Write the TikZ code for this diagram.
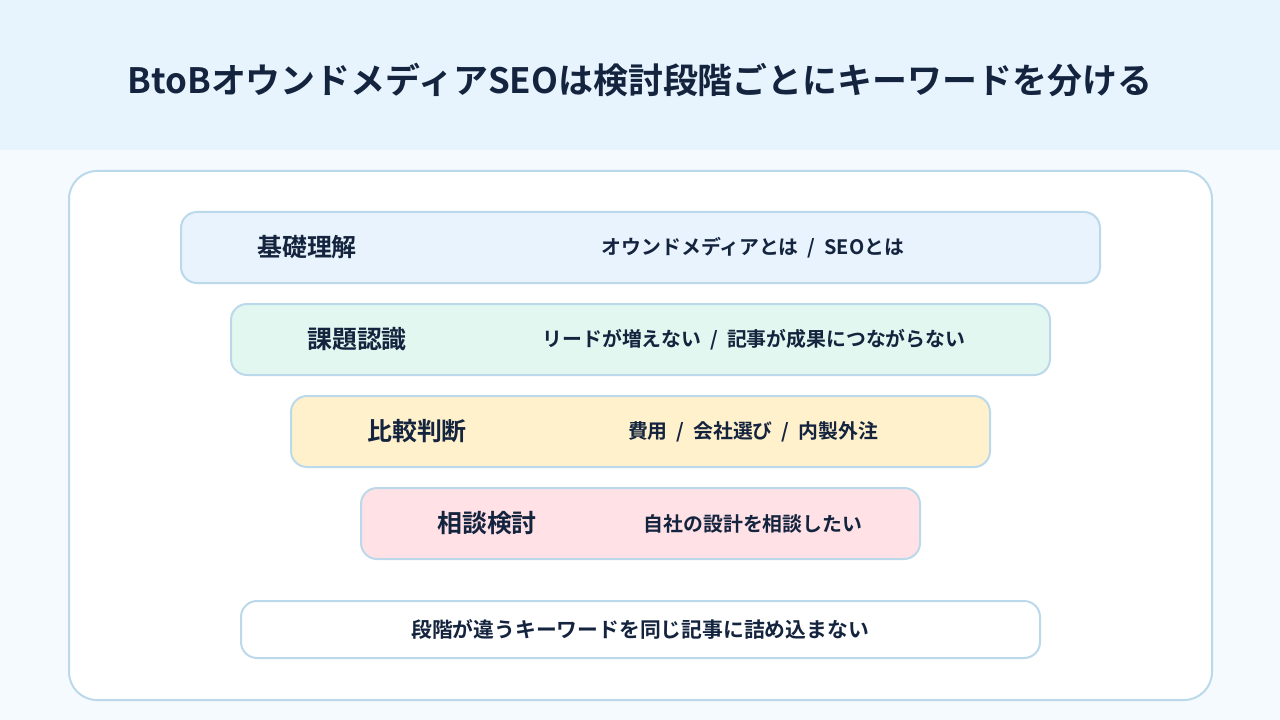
\documentclass[tikz,border=0pt]{standalone}
\usepackage{fontspec}
\setmainfont{Noto Sans CJK JP}[BoldFont={Noto Sans CJK JP Bold}]
\usetikzlibrary{positioning}
\definecolor{navy}{HTML}{14243E}
\definecolor{headblue}{HTML}{E8F4FD}
\definecolor{pageblue}{HTML}{F5FAFE}
\definecolor{edgeblue}{HTML}{BCD9EB}
\definecolor{rowblue}{HTML}{E9F3FD}
\definecolor{rowmint}{HTML}{E1F7EF}
\definecolor{rowcream}{HTML}{FFF1CC}
\definecolor{rowpink}{HTML}{FFE1E6}
\newcommand{\kwsep}{\hspace{0.45em}/\hspace{0.45em}}
\tikzset{
  stagebox/.style={draw=edgeblue, line width=1.5pt, rounded corners=12pt,
    minimum height=71*0.75pt, inner sep=0pt},
  stagelabel/.style={text=navy, font=\bfseries\fontsize{18.7}{20}\selectfont},
  keyword/.style={text=navy, font=\bfseries\fontsize{14.9}{16}\selectfont}
}
\begin{document}
\begin{tikzpicture}[x=0.75pt, y=-0.75pt]
				% page and header band
				\fill[pageblue] (0,0) rectangle (1280,720);
				\fill[headblue] (0,0) rectangle (1280,150);
				\node[text=navy, font=\bfseries\fontsize{26.2}{30}\selectfont] (title) at (640,80)
				  {BtoBオウンドメディアSEOは検討段階ごとにキーワードを分ける};
				
				% card
				\draw[edgeblue, fill=white, line width=1.5pt, rounded corners=21pt] (69,171) rectangle (1212,700);
				
				% stages
				\node[stagebox, fill=rowblue, minimum width=919*0.75pt] (basic) at (640.5,247.5) {};
				\node[stagelabel] (basiclab) at (307,247.5) {基礎理解};
				\node[keyword] (basickw) at (753,247.5) {オウンドメディアとは\kwsep SEOとは};
				
				\node[stagebox, fill=rowmint, minimum width=819*0.75pt] (issue) at (640.5,339.5) {};
				\node[stagelabel] (issuelab) at (357,339.5) {課題認識};
				\node[keyword] (issuekw) at (754,339.5) {リードが増えない\kwsep 記事が成果につながらない};
				
				\node[stagebox, fill=rowcream, minimum width=699*0.75pt] (compare) at (640.5,431.5) {};
				\node[stagelabel] (comparelab) at (417,431.5) {比較判断};
				\node[keyword] (comparekw) at (753,431.5) {費用\kwsep 会社選び\kwsep 内製外注};
				
				\node[stagebox, fill=rowpink, minimum width=559*0.75pt] (consult) at (640.5,523.5) {};
				\node[stagelabel] (consultlab) at (487,523.5) {相談検討};
				\node[keyword] (consultkw) at (753,523.5) {自社の設計を相談したい};
				
				% note
				\node[stagebox, fill=white, minimum width=799*0.75pt, minimum height=57*0.75pt] (note) at (640.5,629.5) {};
				\node[keyword, font=\bfseries\fontsize{15.6}{17}\selectfont] (notetext) at (640,629.5) {段階が違うキーワードを同じ記事に詰め込まない};
				
				\useasboundingbox (0,0) rectangle (1280,720);
\end{tikzpicture}
\end{document}
